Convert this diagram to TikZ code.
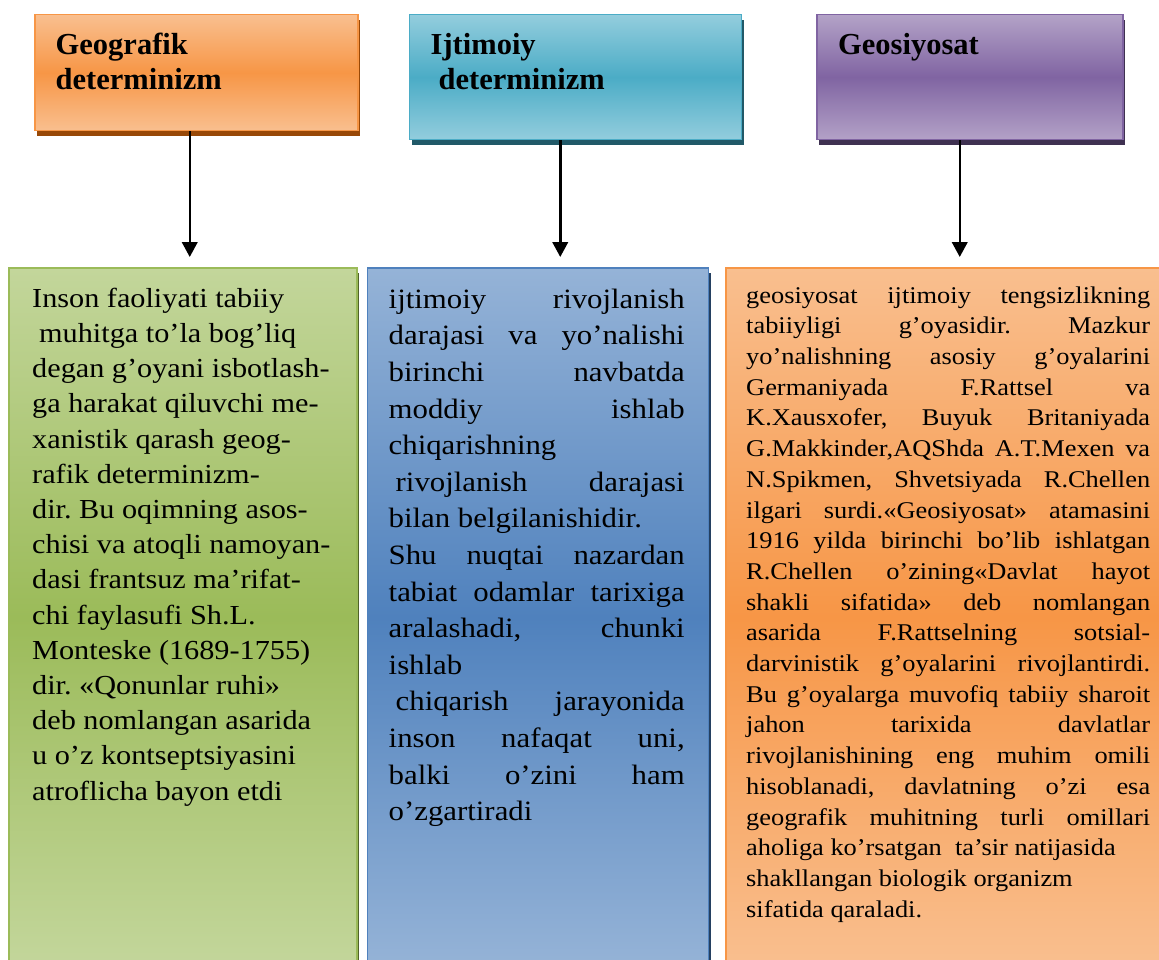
\documentclass[tikz,border=0pt]{standalone}
\usepackage{fontspec}
\setmainfont{Liberation Serif}
\newfontfamily\bodyfont{Liberation Serif}[FakeStretch=1.1]
\usepackage{xcolor}
\usepackage{tikz}
\usetikzlibrary{positioning, arrows.meta, shadows}

\definecolor{geoLight}{HTML}{F9BF8F}
\definecolor{geoDark}{HTML}{F79646}
\definecolor{geoShade}{HTML}{984807}
\definecolor{socLight}{HTML}{93CDDD}
\definecolor{socDark}{HTML}{4BACC6}
\definecolor{socShade}{HTML}{215968}
\definecolor{polLight}{HTML}{B3A2C7}
\definecolor{polDark}{HTML}{8064A2}
\definecolor{polShade}{HTML}{3F3151}
\definecolor{grnLight}{HTML}{C3D69B}
\definecolor{grnDark}{HTML}{9BBB59}
\definecolor{grnShade}{HTML}{4F6228}
\definecolor{bluLight}{HTML}{95B3D7}
\definecolor{bluDark}{HTML}{4F81BD}
\definecolor{bluShade}{HTML}{244061}

\tolerance=10000
\hbadness=10000
\hyphenpenalty=10000
\frenchspacing

\begin{document}
\begin{tikzpicture}[x=1pt, y=-1pt,
    headbox/.style={rectangle, draw=#1Dark, line width=1.5pt, anchor=north west,
        top color=#1Light, bottom color=#1Light, middle color=#1Dark,
        minimum height=125pt,
        drop shadow={shadow xshift=2.5pt, shadow yshift=-5pt, fill=#1Shade, opacity=1}},
    textbox/.style={headbox=#1, minimum height=698pt},
    headtext/.style={inner sep=0pt, align=left, font=\fontsize{30.5}{35}\selectfont\bfseries},
    bodytext/.style={inner sep=0pt},
    flow/.style={-{Triangle[width=15.5pt, length=15pt]}, line width=2.5pt, shorten >=10pt},
]
\useasboundingbox (0,0) rectangle (1159,960);
\clip (0,0) rectangle (1159,960);

% top row
\node[headbox=geo, minimum width=323pt, minimum height=116pt](geo) at (34,14){};
\node[headbox=soc, minimum width=332pt](soc)[below right = 0pt and 50pt of geo.north east]{};
\node[headbox=pol, minimum width=306pt](pol)[below right = 0pt and 74pt of soc.north east]{};

\node[headtext](geoname)[below right = 15.5pt and 21.5pt of geo.north west]{\strut Geografik\\determinizm};
\node[headtext](socname)[below right = 15.5pt and 22pt of soc.north west]{\strut Ijtimoiy\\\hspace*{8pt}determinizm};
\node[headtext](polname)[below right = 15.5pt and 22pt of pol.north west]{\strut Geosiyosat};

% bottom row
\node[textbox=grn, minimum width=348pt](geotxt) at (8,267){};
\node[textbox=blu, minimum width=341pt](soctxt)[below right = 0pt and 9pt of geotxt.north east]{};
\node[textbox=geo, minimum width=460pt](poltxt)[below right = 0pt and 16pt of soctxt.north east]{};

\node[bodytext, align=left, font=\bodyfont\fontsize{27.5}{35.2}\selectfont](geobody)
    [below right = 15.4pt and 24pt of geotxt.north west]{\strut Inson faoliyati tabiiy\\
    \hspace*{7pt}muhitga to’la bog’liq\\
    degan g’oyani isbotlash-\\
    ga harakat qiluvchi me-\\
    xanistik qarash geog-\\
    rafik determinizm-\\
    dir. Bu oqimning asos-\\
    chisi va atoqli namoyan-\\
    dasi frantsuz ma’rifat-\\
    chi faylasufi Sh.L.\\
    Monteske (1689-1755)\\
    dir. «Qonunlar ruhi»\\
    deb nomlangan asarida\\
    u o’z kontseptsiyasini\\
    atroflicha bayon etdi};

\node[bodytext, text width=296pt, align=justify, font=\bodyfont\fontsize{28}{36.6}\selectfont](socbody)
    [below right = 15.4pt and 22pt of soctxt.north west]{\strut ijtimoiy rivojlanish\linebreak
    darajasi va yo’nalishi\linebreak
    birinchi navbatda\linebreak
    moddiy ishlab\linebreak
    chiqarishning\newline
    \hspace*{7pt}rivojlanish darajasi\linebreak
    bilan belgilanishidir.\newline
    Shu nuqtai nazardan\linebreak
    tabiat odamlar tarixiga\linebreak
    aralashadi, chunki\linebreak
    ishlab\newline
    \hspace*{7pt}chiqarish jarayonida\linebreak
    inson nafaqat uni,\linebreak
    balki o’zini ham\linebreak
    o’zgartiradi};

\node[bodytext, text width=404pt, align=justify, font=\bodyfont\fontsize{24}{30.7}\selectfont](polbody)
    [below right = 14.5pt and 21pt of poltxt.north west]{\strut geosiyosat ijtimoiy tengsizlikning\linebreak
    tabiiyligi g’oyasidir. Mazkur\linebreak
    yo’nalishning asosiy g’oyalarini\linebreak
    Germaniyada F.Rattsel va\linebreak
    K.Xausxofer, Buyuk Britaniyada\linebreak
    G.Makkinder,AQShda A.T.Mexen va\linebreak
    N.Spikmen, Shvetsiyada R.Chellen\linebreak
    ilgari surdi.«Geosiyosat» atamasini\linebreak
    1916 yilda birinchi bo’lib ishlatgan\linebreak
    R.Chellen o’zining«Davlat hayot\linebreak
    shakli sifatida» deb nomlangan\linebreak
    asarida F.Rattselning sotsial-\linebreak
    darvinistik g’oyalarini rivojlantirdi.\linebreak
    Bu g’oyalarga muvofiq tabiiy sharoit\linebreak
    jahon tarixida davlatlar\linebreak
    rivojlanishining eng muhim omili\linebreak
    hisoblanadi, davlatning o’zi esa\linebreak
    geografik muhitning turli omillari\linebreak
    aholiga ko’rsatgan~ ta’sir natijasida\newline
    shakllangan biologik organizm\newline
    sifatida qaraladi.};

% connectors
\draw[flow] ([xshift=-6.5pt]geo.south) -- ([xshift=-6.5pt]geo.south |- geotxt.north);
\draw[flow] ([xshift=-15pt]soc.south) -- ([xshift=-15pt]soc.south |- soctxt.north);
\draw[flow] ([xshift=-10pt]pol.south) -- ([xshift=-10pt]pol.south |- poltxt.north);
\end{tikzpicture}
\end{document}
